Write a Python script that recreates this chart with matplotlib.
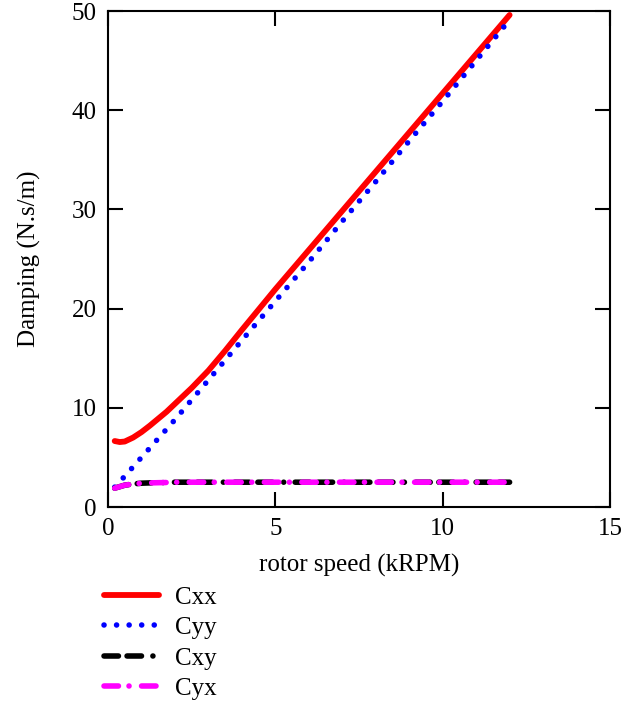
import matplotlib
matplotlib.use("Agg")
import matplotlib.pyplot as plt

# --- Daten ---
speed = [0.2, 0.35, 0.5, 0.75, 1, 1.25, 1.5, 1.75, 2, 2.5, 3, 3.5, 4, 5, 6, 7, 8, 9, 10, 11, 12]
cxx = [6.65, 6.55, 6.6, 7.0, 7.55, 8.2, 8.9, 9.6, 10.4, 12.0, 13.75, 15.75, 17.85,
       21.95, 25.9, 29.85, 33.8, 37.75, 41.7, 45.65, 49.6]
cyy = [2.0, 2.55, 3.1, 4.05, 5.0, 5.95, 6.9, 7.85, 8.8, 10.8, 12.8, 14.8, 16.8,
       20.75, 24.7, 28.8, 32.8, 36.9, 40.9, 45.0, 49.1]
cxy = [1.9, 2.05, 2.2, 2.32, 2.4, 2.43, 2.45, 2.47, 2.5, 2.5, 2.5, 2.5, 2.5,
       2.5, 2.5, 2.5, 2.5, 2.5, 2.5, 2.5, 2.5]
cyx = [1.9, 2.05, 2.2, 2.32, 2.4, 2.43, 2.45, 2.47, 2.5, 2.5, 2.5, 2.5, 2.5,
       2.5, 2.5, 2.5, 2.5, 2.5, 2.5, 2.5, 2.5]

x_ticks = [0, 5, 10, 15]
y_ticks = [0, 10, 20, 30, 40, 50]

plt.rcParams["font.family"] = ["Liberation Serif", "DejaVu Serif"]
fs = 18

fig = plt.figure(figsize=(6.39, 7.04), dpi=100)
ax = fig.add_axes([108 / 639, 1 - 507 / 704, 502 / 639, 496 / 704])

lw = 4.0
ax.plot(speed, cxx, color="#ff0000", lw=4.2, solid_capstyle="round", label="Cxx")
ax.plot(speed, cyy, color="#0000ff", lw=4.0, linestyle=(0, (0.01, 2.25)),
        dash_capstyle="round", label="Cyy")
ax.plot(speed, cxy, color="black", lw=lw, linestyle=(0, (2.6, 1.55, 2.6, 2.05, 0.01, 2.05)),
        dash_capstyle="round", label="Cxy")
ax.plot(speed, cyx, color="#ff00ff", lw=lw, linestyle=(0, (2.6, 1.9, 0.01, 2.25)),
        dash_capstyle="round", label="Cyx")

ax.set_xlim(0, 15)
ax.set_ylim(0, 50)
ax.set_xticks(x_ticks)
ax.set_yticks(y_ticks)
ax.tick_params(direction="in", length=11, width=1.5, top=True, right=True,
               labelsize=fs, pad=8)
for sp in ax.spines.values():
    sp.set_linewidth(1.5)

ax.set_xlabel("rotor speed (kRPM)", fontsize=fs, labelpad=10)
ax.set_ylabel("Damping (N.s/m)", fontsize=fs, labelpad=22)

fig.legend(loc="upper left", bbox_to_anchor=(104 / 639, 1 - 586 / 704),
           frameon=False, fontsize=fs, handlelength=2.2, handletextpad=0.64,
           labelspacing=0.32, borderpad=0, borderaxespad=0)

fig.savefig("out.png", dpi=100)
